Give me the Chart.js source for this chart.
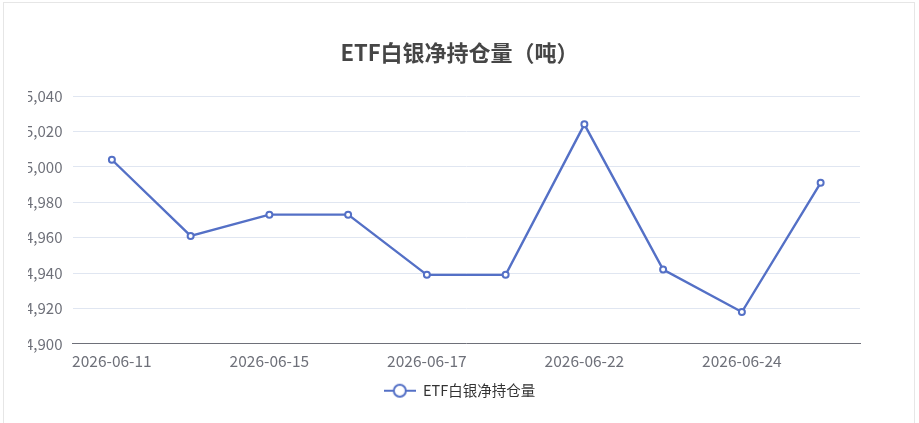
<!DOCTYPE html>
<html>
<head>
<meta charset="utf-8">
<script src="https://cdn.jsdelivr.net/npm/chart.js@4/dist/chart.umd.min.js"></script>
<style>
  html, body { margin: 0; padding: 0; background: #fff; }
  body { width: 919px; height: 423px; position: relative; overflow: hidden; }
  #clip { position: absolute; left: 28px; top: 0; width: 891px; height: 423px; overflow: hidden; }
  #clip canvas { position: absolute; left: -28px; top: 0; }
  #card { position: absolute; left: 3px; top: 2px; width: 910px; height: 500px;
          border: 1px solid #e6e6e6; pointer-events: none; }
</style>
</head>
<body>
<div id="clip"><canvas id="silverChart" width="919" height="423"></canvas></div>
<div id="card"></div>
<script>
const dates = ["2026-06-11", "2026-06-12", "2026-06-15", "2026-06-16", "2026-06-17",
               "2026-06-18", "2026-06-22", "2026-06-23", "2026-06-24", "2026-06-25"];
const holdings = [15004, 14961, 14973, 14973, 14939, 14939, 15024, 14942, 14918, 14991];
const yMin = 14900;
const yMax = 15040;
const yStep = 20;

const lineColor = "#5470c6";
const fontFamily = "'Noto Sans CJK SC', 'Noto Sans', sans-serif";

// legend icon: short line with a hollow circle
const legendIcon = document.createElement("canvas");
legendIcon.width = 32;
legendIcon.height = 16;
(function () {
  const g = legendIcon.getContext("2d");
  g.strokeStyle = lineColor;
  g.lineWidth = 2;
  g.beginPath();
  g.moveTo(0, 8);
  g.lineTo(32, 8);
  g.stroke();
  g.beginPath();
  g.arc(16, 8, 6, 0, Math.PI * 2);
  g.fillStyle = "#fff";
  g.fill();
  g.stroke();
})();

const ctx = document.getElementById("silverChart").getContext("2d");

new Chart(ctx, {
  type: "line",
  data: {
    labels: dates,
    datasets: [
      {
        label: "ETF白银净持仓量",
        data: holdings,
        borderColor: lineColor,
        backgroundColor: "#fff",
        borderWidth: 2.4,
        tension: 0,
        pointRadius: 3,
        pointBorderWidth: 2,
        pointBackgroundColor: "#fff",
        pointBorderColor: lineColor,
      },
    ],
  },
  options: {
    responsive: false,
    animation: false,
    layout: {
      padding: { left: 0, right: 0, top: 0, bottom: 15 },
    },
    plugins: {
      title: {
        display: true,
        text: "ETF白银净持仓量（吨）",
        color: "#464646",
        font: { family: fontFamily, size: 22, weight: "bold" },
        padding: { top: 39, bottom: 30.6 },
      },
      legend: {
        position: "bottom",
        labels: {
          usePointStyle: true,
          pointStyle: legendIcon,
          pointStyleWidth: 32,
          padding: 6,
          color: "#333",
          font: { family: fontFamily, size: 14.5 },
        },
      },
      tooltip: { enabled: false },
    },
    scales: {
      x: {
        offset: true,
        grid: { display: false, drawTicks: false },
        border: { display: true, color: "#6e7079", width: 1 },
        ticks: {
          autoSkip: false,
          maxRotation: 0,
          padding: 7.5,
          color: "#6e7079",
          font: { family: fontFamily, size: 15.5 },
          callback: function (value, index) {
            return index % 2 === 0 ? dates[index] : "";
          },
        },
      },
      y: {
        min: yMin,
        max: yMax,
        grid: { color: "#e0e6f1", drawTicks: false },
        border: { display: false },
        afterFit: function (scale) {
          scale.width = 72.5;
        },
        ticks: {
          stepSize: yStep,
          padding: 10,
          color: "#6e7079",
          font: { family: fontFamily, size: 15 },
          callback: function (value) {
            return value.toLocaleString("en-US");
          },
        },
      },
      // empty right-hand axis: only reserves the right margin so title and legend stay centred
      yRight: {
        position: "right",
        min: yMin,
        max: yMax,
        grid: { display: false, drawTicks: false },
        border: { display: false },
        ticks: { display: false },
        afterFit: function (scale) {
          scale.width = 59;
        },
      },
    },
  },
});
</script>
</body>
</html>
